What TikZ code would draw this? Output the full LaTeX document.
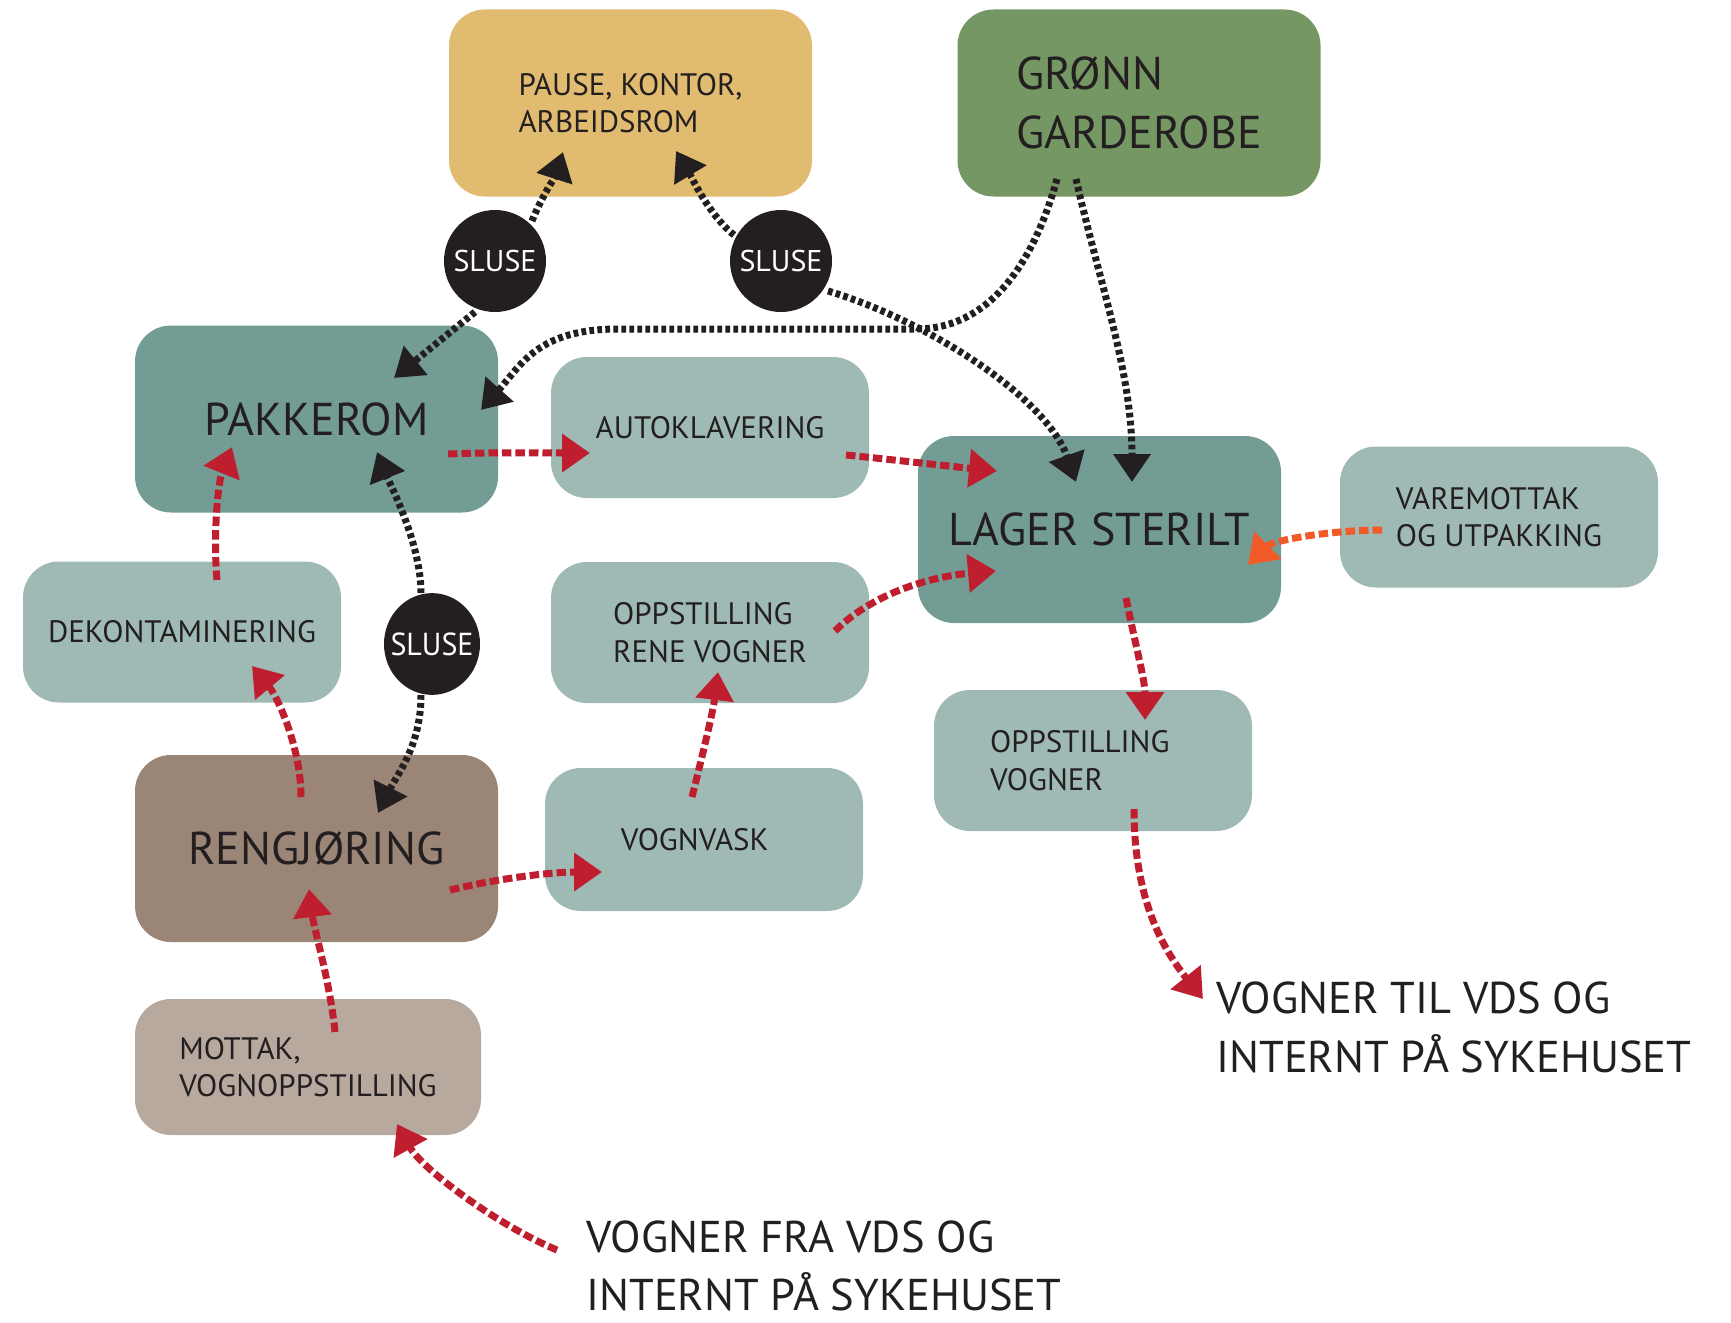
\documentclass[tikz,border=0pt]{standalone}
\usepackage{fontspec}
\setmainfont{PT Sans}
\usetikzlibrary{arrows.meta}
\definecolor{cpause}{HTML}{E1BB6F}
\definecolor{cgroenn}{HTML}{759764}
\definecolor{cdark}{HTML}{739D94}
\definecolor{clight}{HTML}{9FBAB4}
\definecolor{creng}{HTML}{9B8576}
\definecolor{cmottak}{HTML}{B8A99F}
\definecolor{cred}{HTML}{BE1E2D}
\definecolor{corange}{HTML}{F15A29}
\definecolor{cblack}{HTML}{231F20}
\newcommand\szsmall{\fontsize{31}{37.5}\selectfont}
\newcommand\szsluse{\fontsize{30}{36}\selectfont}
\newcommand\szbox{\fontsize{46}{58.5}\selectfont}
\newcommand\szext{\fontsize{44.5}{58.5}\selectfont}
\begin{document}
\begin{tikzpicture}[x=1pt,y=-1pt,
  box/.style={rectangle, rounded corners=36pt, inner sep=0pt, align=left, text=cblack, font=\szsmall},
  bigbox/.style={box, minimum width=363pt, minimum height=187pt, font=\szbox},
  smallbox/.style={box, fill=clight, minimum width=318pt, minimum height=141pt},
  slusenode/.style={circle, fill=cblack, text=white, inner sep=0pt, minimum size=102pt, font=\szsluse},
  redflow/.style={draw=cred, line width=7pt, dash pattern=on 9.5pt off 4pt, -{Triangle[length=28pt,width=37pt]}},
  orangeflow/.style={redflow, draw=corange},
  blackflow/.style={draw=cblack, line width=7pt, dash pattern=on 4.7pt off 3.3pt, -{Triangle[length=28pt,width=36pt]}},
  extlabel/.style={align=left, text=cblack, font=\szext, inner sep=0pt}
]
\useasboundingbox (0,0) rectangle (1731,1322);

% boxes
\node[bigbox, fill=cpause, font=\szsmall] (pause) at (630.5,103) {PAUSE, KONTOR,\\ARBEIDSROM};
\node[bigbox, fill=cgroenn] (groenn) at (1139,103) {GRØNN\\GARDEROBE};
\node[bigbox, fill=cdark] (pak) at (316.5,419) {PAKKEROM};
\node[smallbox] (auto) at (710,427.5) {AUTOKLAVERING};
\node[bigbox, fill=cdark] (lager) at (1099.5,529.5) {LAGER STERILT};
\node[smallbox] (vare) at (1499,517) {VAREMOTTAK\\OG UTPAKKING};
\node[smallbox] (dekon) at (182,632) {DEKONTAMINERING};
\node[smallbox] (rene) at (710,632.5) {OPPSTILLING\\RENE VOGNER};
\node[smallbox] (oppv) at (1093,760.5) {OPPSTILLING\\VOGNER\hspace*{3em}};
\node[bigbox, fill=creng] (reng) at (316.5,848.5) {RENGJØRING};
\node[smallbox, minimum height=143pt] (vask) at (704,839.5) {VOGNVASK\hspace*{0.6em}};
\node[box, fill=cmottak, minimum width=346pt, minimum height=136pt] (mottak) at (308,1067) {MOTTAK,\\VOGNOPPSTILLING};

% external labels
\node[extlabel] (ut) at (1454,1027.5) {VOGNER TIL VDS OG\\INTERNT PÅ SYKEHUSET};
\node[extlabel] (inn) at (824,1266) {VOGNER FRA VDS OG\\INTERNT PÅ SYKEHUSET};

% sluser
\node[slusenode] (sl1) at (495,261) {SLUSE};
\node[slusenode] (sl2) at (781,261) {SLUSE};
\node[slusenode, minimum size=96pt, yscale=1.06] (sl3) at (432,644) {SLUSE};

% red flows
\draw[redflow] ([shift={(35,-52)}]dekon.center) .. controls +(-4,-45) and +(-14,35) .. ([shift={(-84.5,28)}]pak.center);
\draw[redflow] ([shift={(-15.5,-51.5)}]reng.center) .. controls +(0,-50) and +(25,30) .. ([shift={(70,34)}]dekon.center);
\draw[redflow] ([shift={(27,-35)}]mottak.center) .. controls +(-5,-50) and +(5,40) .. ([shift={(-7.5,40.5)}]reng.center);
\draw[redflow] ([shift={(-267,-16)}]inn.center) .. controls +(-60,-25) and +(25,45) .. ([shift={(89,57)}]mottak.center);
\draw[redflow] ([shift={(133.5,41.5)}]reng.center) .. controls +(50,-12) and +(-50,0) .. ([shift={(-102,32.5)}]vask.center);
\draw[redflow] ([shift={(-12,-42.5)}]vask.center) .. controls +(10,-40) and +(-5,40) .. ([shift={(8,39.5)}]rene.center);
\draw[redflow] ([shift={(125,-1.5)}]rene.center) .. controls +(40,-40) and +(-60,5) .. ([shift={(-103.5,41.5)}]lager.center);
\draw[redflow] ([shift={(131.5,35)}]pak.center) .. controls +(50,-2) and +(-50,0) .. ([shift={(-120,25.5)}]auto.center);
\draw[redflow] ([shift={(136,27.5)}]auto.center) .. controls +(50,5) and +(-50,-5) .. ([shift={(-102.5,-58.5)}]lager.center);
\draw[redflow] ([shift={(26.5,68.5)}]lager.center) .. controls +(10,50) and +(0,-40) .. ([shift={(52,-40.5)}]oppv.center);
\draw[redflow] ([shift={(41,48.5)}]oppv.center) .. controls +(0,90) and +(-40,-50) .. ([shift={(-251,-28.5)}]ut.center);
\draw[orangeflow] ([shift={(-117,13)}]vare.center) .. controls +(-50,0) and +(25,-25) .. ([shift={(148.5,35.5)}]lager.center);

% black flows
\draw[blackflow] ([shift={(37,-40)}]sl1.center) .. controls +(10,-25) and +(-8,25) .. ([shift={(-67.5,49)}]pause.center);
\draw[blackflow] ([shift={(-20,51)}]sl1.center) -- ([shift={(77.5,-41)}]pak.center);
\draw[blackflow] ([shift={(-47,-26)}]sl2.center) .. controls +(-25,-20) and +(15,25) .. ([shift={(45.5,48)}]pause.center);
\draw[blackflow] ([shift={(47,30)}]sl2.center) .. controls +(100,30) and +(-30,-85) .. ([shift={(-23.5,-47.5)}]lager.center);
\draw[blackflow] ([shift={(-82,76)}]groenn.center) .. controls +(-25,90) and +(70,0) .. (916,329) -- (618,329) .. controls +(-80,0) and +(40,-45) .. ([shift={(164.5,-9)}]pak.center);
\draw[blackflow] ([shift={(-63,76)}]groenn.center) .. controls +(25,110) and +(0,-110) .. ([shift={(32.5,-47.5)}]lager.center);
\draw[blackflow] ([shift={(-11,-51)}]sl3.center) .. controls +(0,-50) and +(12,30) .. ([shift={(60.5,33)}]pak.center);
\draw[blackflow] ([shift={(-11,51)}]sl3.center) .. controls +(0,50) and +(20,-40) .. ([shift={(61.5,-35.5)}]reng.center);
\end{tikzpicture}
\end{document}
